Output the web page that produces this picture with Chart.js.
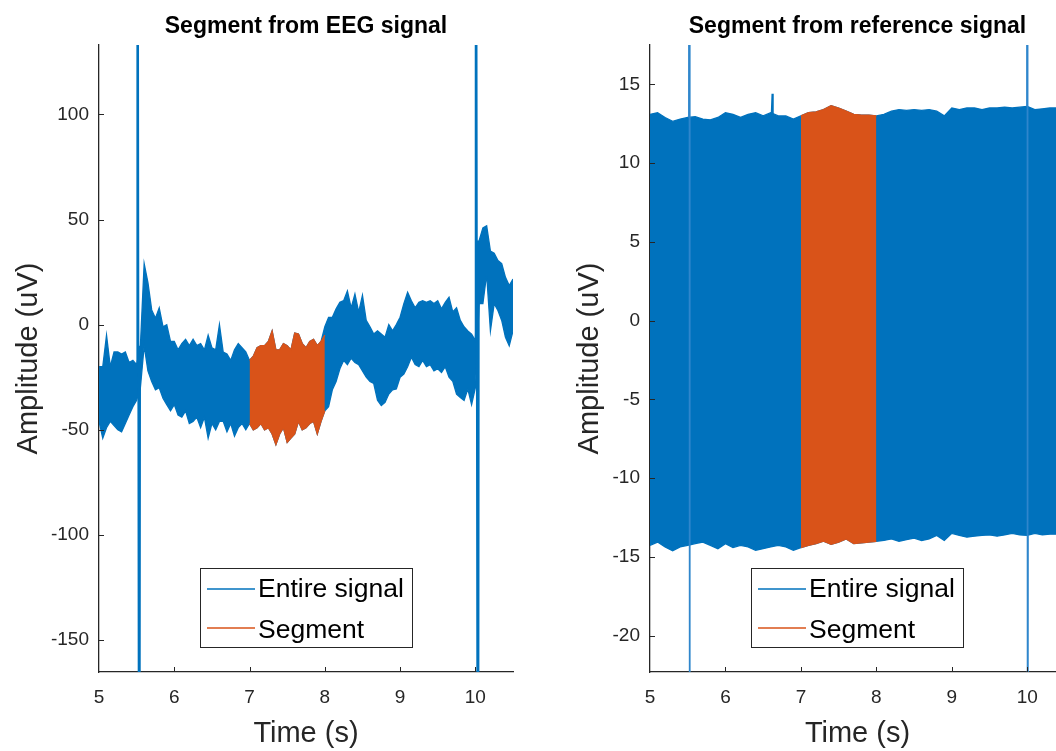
<!DOCTYPE html>
<html><head><meta charset="utf-8">
<script src="https://cdn.jsdelivr.net/npm/chart.js@4.4.0/dist/chart.umd.min.js"></script>
<style>
html,body{margin:0;padding:0;background:#fff;overflow:hidden;width:1056px;height:751px;position:relative;}
#c1{position:absolute;left:0;top:0;}
#c2{position:absolute;left:530px;top:0;}
</style></head><body>
<canvas id="c1" width="530" height="751"></canvas>
<canvas id="c2" width="560" height="751"></canvas>
<script>
// ---------- EEG panel (left) ----------
const eegTime = [5,5.05,5.1,5.15,5.2,5.25,5.3,5.35,5.4,5.45,
 5.5,5.55,5.6,5.65,5.7,5.75,5.8,5.85,5.9,5.95,
 6,6.05,6.1,6.15,6.2,6.25,6.3,6.35,6.4,6.45,
 6.5,6.55,6.6,6.65,6.7,6.75,6.8,6.85,6.9,6.95,
 7,7.05,7.1,7.15,7.2,7.25,7.3,7.35,7.4,7.45,
 7.5,7.55,7.6,7.65,7.7,7.75,7.8,7.85,7.9,7.95,
 8,8.05,8.1,8.15,8.2,8.25,8.3,8.35,8.4,8.45,
 8.5,8.55,8.6,8.65,8.7,8.75,8.8,8.85,8.9,8.95,
 9,9.05,9.1,9.15,9.2,9.25,9.3,9.35,9.4,9.45,
 9.5,9.55,9.6,9.65,9.7,9.75,9.8,9.85,9.9,9.95,
 10,10.05,10.1,10.15,10.2,10.25,10.3,10.35,10.4,10.45,10.5];
const eegUpper = [-20,-20,-5,-20,-13,-13,-14,-13,-18,-17,
 -19,-10,29,20,7,3,8,-1,0,-8,
 -8,-12,-9,-7,-10,-7,-10,-9,-12,-5,
 -11,-12,0,-13,-14,-17,-12,-9,-11,-13,
 -17,-15,-11,-10,-10,-8,-3,-12,-12,-9,
 -10,-12,-4,-4.5,-9,-11,-8,-7,-10,-8,
 -1,3.5,3.5,7.5,10.6,11.4,16,8,14.6,6,
 14,2,-1,-4.5,-3,-4.5,-6,0,-3,0,
 3.5,10,15.4,11.4,8,10.6,11.4,10.6,11.4,10,
 11.4,7.5,10.6,13,6,8,2,-1,-3,-4.5,
 -7.6,40,46,47,35,34,30.5,29,22.5,18.6,21.7];
const eegLower = [-46,-54,-49,-46,-48,-50,-51,-47,-43,-39,
 -36,-30,-10,-22,-27,-31,-30,-35,-38,-41,
 -38,-43,-44,-41,-47,-46,-44,-49,-44,-54,
 -47,-50,-46,-46,-51,-47,-53,-49,-47,-50,
 -47,-50,-49,-47,-50,-49,-52,-57,-52,-49,
 -56,-54,-52,-46,-50,-49,-47,-46,-52,-46,
 -41,-39,-31,-27,-21,-17,-19,-16,-18,-19,
 -22,-25,-27,-28,-36,-38.5,-37,-33,-31,-30.6,
 -25,-23.5,-20,-15.5,-19,-20,-17,-20,-19,-22,
 -21,-22.7,-20,-25,-27,-33,-34.6,-36,-30.6,-38,
 -30,10,10,24,-3,10,6.7,2,-6,-10,-3];
const eegSegTime = [7,7.05,7.1,7.15,7.2,7.25,7.3,7.35,7.4,7.45,7.5,7.55,7.6,7.65,7.7,7.75,7.8,7.85,7.9,7.95,8];
const eegSegUpper = [-17,-15,-11,-10,-10,-8,-3,-12,-12,-9,-10,-12,-4,-4.5,-9,-11,-8,-7,-10,-8,-5];
const eegSegLower = [-47,-50,-49,-47,-50,-49,-52,-57,-52,-49,-56,-54,-52,-46,-50,-49,-47,-46,-52,-46,-41];
const eegArt1Time = [5.505,5.51,5.535,5.545];
const eegArt1Val  = [-19,400,-400,-10];
const eegArt2Time = [10.0,10.005,10.035,10.045];
const eegArt2Val  = [-8,400,-400,40];
const eegYTicks = [-150,-100,-50,0,50,100];

// ---------- Reference panel (right) ----------
const refTime = [5,5.1,5.2,5.3,5.4,5.5,5.6,5.7,5.8,5.9,
 6,6.1,6.2,6.3,6.4,6.5,6.6,6.7,6.8,6.9,
 7,7.1,7.2,7.3,7.4,7.5,7.6,7.7,7.8,7.9,
 8,8.1,8.2,8.3,8.4,8.5,8.6,8.7,8.8,8.9,
 9,9.1,9.2,9.3,9.4,9.5,9.6,9.7,9.8,9.9,
 10,10.1,10.2,10.3,10.4,10.5];
const refUpper = [13.1,13.2,12.9,12.65,12.8,12.9,12.95,12.8,12.75,12.9,
 13.2,13.1,12.9,13.1,13.2,13.0,13.2,13.0,13.0,12.8,
 13.0,13.2,13.25,13.4,13.65,13.5,13.3,13.1,13.05,13.05,
 13.0,13.1,13.3,13.4,13.35,13.4,13.35,13.4,13.3,13.0,
 13.5,13.4,13.5,13.5,13.4,13.5,13.5,13.55,13.5,13.55,
 13.6,13.4,13.45,13.5,13.5,13.5];
const refLower = [-14.26,-14.05,-14.36,-14.6,-14.36,-14.26,-14.15,-14.05,-14.26,-14.47,
 -14.15,-14.4,-14.26,-14.36,-14.57,-14.47,-14.36,-14.26,-14.36,-14.57,
 -14.4,-14.26,-14.15,-14.0,-14.2,-14.05,-13.85,-14.15,-14.1,-14.05,
 -14.0,-13.95,-13.85,-14.0,-13.9,-13.8,-13.95,-13.85,-13.63,-13.95,
 -13.5,-13.63,-13.74,-13.68,-13.63,-13.6,-13.68,-13.6,-13.5,-13.6,
 -13.63,-13.5,-13.6,-13.55,-13.55,-13.55];
const refSegTime = [7,7.1,7.2,7.3,7.4,7.5,7.6,7.7,7.8,7.9,8];
const refSegUpper = [13.0,13.2,13.25,13.4,13.65,13.5,13.3,13.1,13.05,13.05,13.0];
const refSegLower = [-14.4,-14.26,-14.15,-14.0,-14.2,-14.05,-13.85,-14.15,-14.1,-14.05,-14.0];
const refArt1Time = [5.515,5.52,5.525,5.53];
const refArt1Val  = [12.9,60,-60,-14.2];
const refArt2Time = [9.995,10.0,10.005,10.01];
const refArt2Val  = [13.6,60,-60,-13.6];
const refSpikeTime = [6.61,6.62,6.63];
const refSpikeVal  = [13.1,14.4,13.1];
const refYTicks = [-20,-15,-10,-5,0,5,10,15];

const xTicks = [5,6,7,8,9,10];
const legendLabels = ['Entire signal','Segment'];

const BLUE = '#0072BD', ORANGE = '#D95319', AX = '#262626';
const FONT = "'Liberation Sans', Arial, Helvetica, sans-serif";

function pts(t, v){ return t.map((x,i)=>({x:x, y:v[i]})); }

const decor = {
  id:'decor',
  afterDraw(chart, args, o){
    const ctx = chart.ctx, a = chart.chartArea;
    const xs = chart.scales.x, ys = chart.scales.y;
    ctx.save();
    ctx.strokeStyle = AX; ctx.lineWidth = 1;
    xs.ticks.forEach(t=>{
      const p = Math.round(xs.getPixelForValue(t.value))+0.5;
      if (p > a.left+2){ ctx.beginPath(); ctx.moveTo(p,a.bottom); ctx.lineTo(p,a.bottom-5); ctx.stroke(); }
    });
    ys.ticks.forEach(t=>{
      const p = Math.round(ys.getPixelForValue(t.value))+0.5;
      ctx.beginPath(); ctx.moveTo(a.left,p); ctx.lineTo(a.left+5,p); ctx.stroke();
    });
    // title
    ctx.fillStyle = '#000';
    ctx.font = 'bold 23px ' + FONT;
    ctx.textAlign = 'center'; ctx.textBaseline = 'alphabetic';
    ctx.fillText(o.title, (a.left+a.right)/2, 33);
    // legend
    const bx = a.left + 101, by = 568, bw = 212, bh = 79;
    ctx.fillStyle = '#fff'; ctx.fillRect(bx,by,bw,bh);
    ctx.strokeStyle = AX; ctx.lineWidth = 1;
    ctx.strokeRect(Math.round(bx)+0.5, by+0.5, bw, bh);
    const rows = [[BLUE,589,597],[ORANGE,628,638]];
    ctx.font = '26.5px ' + FONT; ctx.textAlign = 'left';
    rows.forEach((r,i)=>{
      ctx.strokeStyle = r[0]; ctx.lineWidth = 1.4;
      ctx.beginPath(); ctx.moveTo(bx+7, r[1]); ctx.lineTo(bx+55, r[1]); ctx.stroke();
      ctx.fillStyle = '#000';
      ctx.fillText(legendLabels[i], bx+58, r[2]);
    });
    ctx.restore();
  }
};

function makePanel(id, p){
  const line = (data, color, extra) => Object.assign({
    data: data, borderColor: color, backgroundColor: color, borderWidth: 1.3,
    pointRadius: 0, tension: 0, fill: false
  }, extra||{});
  new Chart(document.getElementById(id), {
    type: 'line',
    data: { datasets: [
      line(pts(p.segT, p.segU), ORANGE),
      line(pts(p.segT, p.segL), ORANGE, {fill: '-1'}),
      ...p.arts.map(a => line(pts(a[0], a[1]), a[2] || BLUE, {borderWidth: a[3] || 2})),
      line(pts(p.t, p.u), BLUE),
      line(pts(p.t, p.l), BLUE, {fill: '-1'})
    ]},
    options: {
      responsive: false, animation: false, events: [],
      devicePixelRatio: 1,
      layout: { padding: { left: 0, top: 45, right: p.padRight, bottom: 0 } },
      plugins: { legend: {display:false}, tooltip: {enabled:false}, decor: {title: p.title} },
      scales: {
        x: {
          type: 'linear', min: 5, max: 10.5,
          afterBuildTicks(s){ s.ticks = xTicks.map(v=>({value:v})); },
          ticks: { font:{size:19, family:FONT}, color: AX, padding: 14, maxRotation: 0, autoSkip: false,
                   callback: v => String(v) },
          grid: { display: false, drawTicks: false },
          border: { display: true, color: AX, width: 1.3 },
          title: { display: true, text: 'Time (s)', color: AX, font:{size:29, family:FONT}, padding:{top:0,bottom:0} },
          afterFit(s){ s.height = 79; }
        },
        y: {
          type: 'linear', min: p.ymin, max: p.ymax,
          afterBuildTicks(s){ s.ticks = p.yTicks.map(v=>({value:v})); },
          ticks: { font:{size:19, family:FONT}, color: AX, padding: 10, autoSkip: false,
                   callback: v => String(v) },
          grid: { display: false, drawTicks: false },
          border: { display: true, color: AX, width: 1.3 },
          title: { display: true, text: 'Amplitude (uV)', color: AX, font:{size:29, family:FONT}, padding:{top:p.yTitlePad,bottom:0} },
          afterFit(s){ s.width = p.yWidth; }
        }
      }
    },
    plugins: [decor]
  });
}

makePanel('c1', {
  title: 'Segment from EEG signal',
  t: eegTime, u: eegUpper, l: eegLower,
  segT: eegSegTime, segU: eegSegUpper, segL: eegSegLower,
  arts: [[eegArt1Time, eegArt1Val], [eegArt2Time, eegArt2Val]],
  ymin: -165.2, ymax: 133, yTicks: eegYTicks,
  yWidth: 99, yTitlePad: 12, padRight: 17
});
makePanel('c2', {
  title: 'Segment from reference signal',
  t: refTime, u: refUpper, l: refLower,
  segT: refSegTime, segU: refSegUpper, segL: refSegLower,
  arts: [[refArt1Time, refArt1Val, '#2f86cc', 1.6], [refArt2Time, refArt2Val, '#2f86cc', 1.6], [refSpikeTime, refSpikeVal, BLUE, 1.5]],
  ymin: -22.3, ymax: 17.5, yTicks: refYTicks,
  yWidth: 120, yTitlePad: 43, padRight: 25
});
</script>
</body></html>
